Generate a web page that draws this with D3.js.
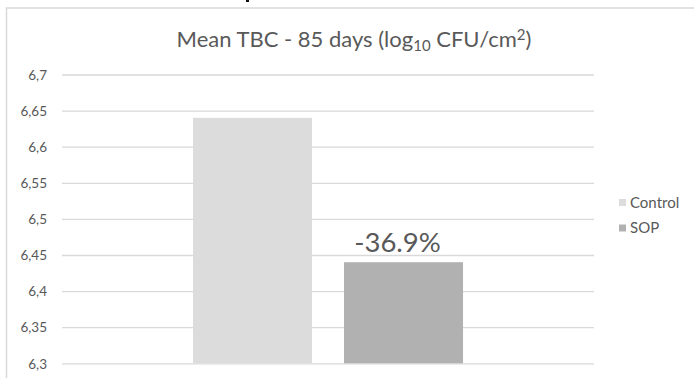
<!DOCTYPE html>
<html>
<head>
<meta charset="utf-8">
<script src="https://cdn.jsdelivr.net/npm/d3@7"></script>
<style>
  html, body { margin: 0; padding: 0; background: #ffffff; }
  svg { display: block; }
  text { font-family: Lato, "Open Sans", sans-serif; fill: #595959; }
</style>
</head>
<body>
<svg id="chart" width="694" height="378"></svg>
<script>
// ---- data ----
const categories = ["85 days"];
const seriesNames = ["Control", "SOP"];
const controlValues = [6.64];
const sopValues = [6.44];
const barLabels = ["", "-36.9%"];
const yTicks = [6.3, 6.35, 6.4, 6.45, 6.5, 6.55, 6.6, 6.65, 6.7];
const yTickLabels = ["6,3", "6,35", "6,4", "6,45", "6,5", "6,55", "6,6", "6,65", "6,7"];
const colors = ["#dcdcdc", "#b1b1b1"];

const svg = d3.select("#chart");
const W = 694, H = 378;

// chart frame
svg.append("rect")
  .attr("x", 6.5).attr("y", 8).attr("width", W).attr("height", H)
  .attr("fill", "#fff").attr("stroke", "#d9d9d9").attr("stroke-width", 1.5);

const plot = { left: 62, right: 594, top: 74.5, bottom: 363.3 };

const y = d3.scaleLinear().domain([6.3, 6.7]).range([plot.bottom, plot.top]);
const x0 = d3.scaleBand().domain(categories).range([plot.left, plot.right])
  .paddingInner(0).paddingOuter(0.485);
const x1 = d3.scaleBand().domain(seriesNames).range([0, x0.bandwidth()])
  .paddingInner(0.212).paddingOuter(0);

// gridlines
const yAxis = d3.axisLeft(y).tickValues(yTicks)
  .tickSize(-(plot.right - plot.left))
  .tickFormat((d, i) => yTickLabels[i]);
const ga = svg.append("g").attr("transform", `translate(${plot.left},0)`).call(yAxis);
ga.select(".domain").remove();
ga.selectAll(".tick line").attr("stroke", "#d9d9d9").attr("stroke-width", 1.3);
ga.selectAll(".tick text")
  .attr("x", -15).attr("dy", "0.35em")
  .style("font-size", "13.5px").style("fill", "#595959")
  .style("font-family", "Lato, 'Open Sans', sans-serif");

// bars
const rows = categories.map((c, i) => ({ cat: c, vals: [controlValues[i], sopValues[i]] }));
const groups = svg.selectAll("g.grp").data(rows).join("g")
  .attr("class", "grp")
  .attr("transform", d => `translate(${x0(d.cat)},0)`);
groups.selectAll("rect").data(d => d.vals.map((v, j) => ({ s: seriesNames[j], v, j })))
  .join("rect")
  .attr("x", d => x1(d.s))
  .attr("width", x1.bandwidth())
  .attr("y", d => y(d.v))
  .attr("height", d => y(6.3) - y(d.v))
  .attr("fill", d => colors[d.j]);

groups.selectAll("text.lbl").data(d => d.vals.map((v, j) => ({ s: seriesNames[j], v, j })))
  .join("text")
  .attr("class", "lbl")
  .attr("x", d => x1(d.s) + x1.bandwidth() / 2 - 6)
  .attr("y", d => y(d.v) - 10)
  .attr("text-anchor", "middle")
  .style("font-size", "27.5px")
  .style("fill", "#595959")
  .text(d => barLabels[d.j]);

// title
const title = svg.append("text")
  .attr("x", 354).attr("y", 47)
  .attr("text-anchor", "middle")
  .style("font-size", "22px")
  .style("fill", "#595959");
title.append("tspan").text("Mean TBC - 85 days (log");
title.append("tspan").attr("dy", 4).style("font-size", "15px").text("10");
title.append("tspan").attr("dy", -4).text(" CFU/cm");
title.append("tspan").attr("dy", -7.5).style("font-size", "15px").text("2");
title.append("tspan").attr("dy", 7.5).text(")");

// legend
const legend = svg.append("g");
seriesNames.forEach((s, i) => {
  const ly = 202.5 + i * 25.5;
  legend.append("rect").attr("x", 619).attr("y", ly - 3.5).attr("width", 7).attr("height", 7)
    .attr("fill", colors[i]);
  legend.append("text").attr("x", 630).attr("y", ly).attr("dy", "0.35em")
    .style("font-size", "15px").style("fill", "#595959").text(s);
});

// cut-off fragment at the very top
svg.append("rect").attr("x", 246).attr("y", 0).attr("width", 3).attr("height", 2).attr("fill", "#111");
</script>
</body>
</html>
